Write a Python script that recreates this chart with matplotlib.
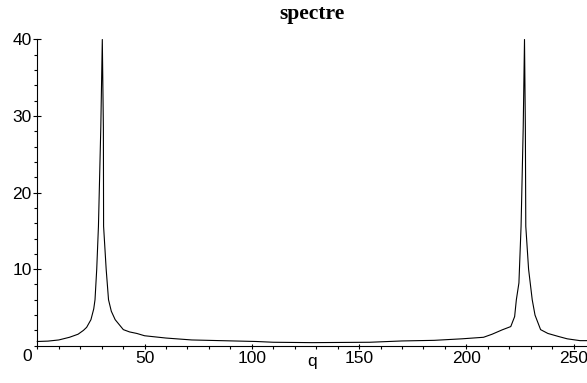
import matplotlib
matplotlib.use("Agg")
import matplotlib.pyplot as plt
from matplotlib.ticker import MultipleLocator

# points: q and spectrum amplitude
q_vals = [0, 5, 10, 15, 19, 21.5, 23, 25, 26.3, 26.9, 27.7, 28.5, 29.6, 30.3,
          30.8, 30.9, 32.1, 33.2, 34.5, 36.3, 40.1, 43, 46.4, 50, 60, 72,
          102, 110, 128, 155, 170, 185, 198, 208, 212, 216.7, 220.7, 222.5,
          223.3, 224.5, 225.5, 226.5, 227.1, 227.5, 227.7, 229, 230.7, 232,
          234.6, 238, 243, 247, 253, 256]
amp_vals = [0.55, 0.6, 0.75, 1.1, 1.5, 2.0, 2.4, 3.4, 4.8, 6.0, 10.0, 15.6,
            28.5, 40.0, 28.5, 15.6, 10.0, 6.0, 4.5, 3.4, 2.1, 1.8, 1.6, 1.3,
            1.0, 0.75, 0.55, 0.45, 0.4, 0.45, 0.62, 0.7, 0.9, 1.1, 1.5, 2.07,
            2.5, 3.8, 6.0, 8.2, 15.6, 28.5, 40.0, 28.5, 15.6, 10.0, 6.0, 4.0,
            2.1, 1.6, 1.2, 0.9, 0.66, 0.66]

x_ticks = [50, 100, 150, 200, 250]
y_ticks = [10, 20, 30, 40]

W, H = 587, 383
fig = plt.figure(figsize=(W / 100, H / 100), dpi=100)
ax = fig.add_axes([37.3 / W, (H - 345.7) / H, (586.5 - 37.3) / W, (345.7 - 39.5) / H])

ax.plot(q_vals, amp_vals, color="black", lw=0.8, clip_on=False)

ax.set_xlim(0, 256)
ax.set_ylim(0, 40)
for s in ["top", "right"]:
    ax.spines[s].set_visible(False)
for s in ["left", "bottom"]:
    ax.spines[s].set_linewidth(0.8)

ax.set_xticks(x_ticks)
ax.set_xticklabels([str(v) for v in x_ticks])
ax.set_yticks(y_ticks)
ax.set_yticklabels([str(v) for v in y_ticks])
ax.xaxis.set_minor_locator(MultipleLocator(10))
ax.yaxis.set_minor_locator(MultipleLocator(2))

lab_font = dict(family="Liberation Sans", size=12.5)
ax.tick_params(axis="y", which="major", direction="inout", length=5.8, width=0.8, pad=1.2,
               labelsize=12.5, labelfontfamily="Liberation Sans")
ax.tick_params(axis="x", which="major", direction="inout", length=3.6, width=0.8, pad=1.8,
               labelsize=12.5, labelfontfamily="Liberation Sans")
ax.tick_params(which="minor", direction="out", length=2.5, width=0.8)

# origin label sits left of the corner
ax.annotate("0", xy=(0, 0), xytext=(-10, -3), textcoords="offset pixels",
            ha="center", va="top", **lab_font)

fig.text(312 / W, 1 - 366 / H, "q", ha="center", va="baseline", **lab_font)
fig.text(311.5 / W, 1 - 18.5 / H, "spectre", ha="center", va="baseline",
         family="Liberation Serif", weight="bold", size=15.5)

fig.savefig("out.png", dpi=100)
